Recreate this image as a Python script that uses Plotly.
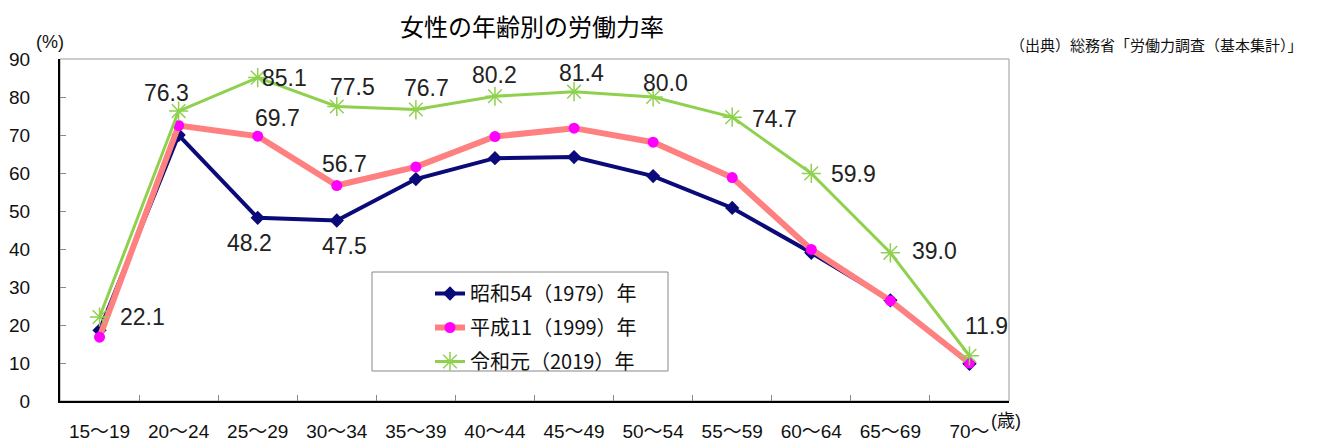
import plotly.graph_objects as go

categories = ["15～19", "20～24", "25～29", "30～34", "35～39", "40～44",
              "45～49", "50～54", "55～59", "60～64", "65～69", "70～"]
s1979 = [18.6, 70.0, 48.2, 47.5, 58.4, 63.9, 64.2, 59.2, 50.8, 39.0, 26.5, 9.8]
s1999 = [16.8, 72.5, 69.7, 56.7, 61.6, 69.6, 71.8, 68.1, 58.8, 39.9, 26.4, 10.0]
s2019 = [22.1, 76.3, 85.1, 77.5, 76.7, 80.2, 81.4, 80.0, 74.7, 59.9, 39.0, 11.9]
names = ["昭和54（1979）年", "平成11（1999）年", "令和元（2019）年"]
y_ticks = [0, 10, 20, 30, 40, 50, 60, 70, 80, 90]

# (series index, category index, xshift, yshift)
label_pos = [
    (2, 0, 43, 0), (2, 1, -12, 18), (2, 2, 27, 0), (2, 3, 16, 20), (2, 4, 11, 22),
    (2, 5, 0, 21), (2, 6, 7, 19), (2, 7, 12, 14), (2, 8, 42, -2), (2, 9, 42, -1),
    (2, 10, 44, 2), (2, 11, 17, 30),
    (1, 2, 20, 18), (1, 3, 8, 22),
    (0, 2, -8, -25), (0, 3, 8, -25),
]

series = [s1979, s1999, s2019]
fig = go.Figure()
fig.add_trace(go.Scatter(x=categories, y=s1979, name=names[0], mode="lines+markers",
                         line=dict(color="#0a0a78", width=4),
                         marker=dict(symbol="diamond", size=11, color="#0a0a78"),
                         legendgroup="a"))
fig.add_trace(go.Scatter(x=categories, y=s1999, name=names[1], mode="lines+markers",
                         line=dict(color="#ff8080", width=6),
                         marker=dict(symbol="circle", size=11, color="#ff00ff"),
                         legendgroup="b"))
fig.add_trace(go.Scatter(x=categories, y=s2019, name=names[2], mode="lines+markers",
                         line=dict(color="#8fd14f", width=3),
                         marker=dict(symbol="asterisk-open", size=16,
                                     line=dict(color="#8fd14f", width=1.5)),
                         legendgroup="c"))

lab_font = dict(family="Liberation Sans Narrow, Liberation Sans, Arial", size=23, color="#222222")
annotations = []
for si, ci, dx, dy in label_pos:
    v = series[si][ci]
    annotations.append(dict(x=categories[ci], y=v, xref="x", yref="y", text=f"{v:.1f}",
                            showarrow=False, xshift=dx, yshift=dy, font=lab_font))

# page has an 8px body margin: the figure is offset by OFF from the window corner
OFF = 8
FW, FH = 1318 - OFF, 446 - OFF
# plot area in window pixels: x 60..1009, y 59..401
PL, PR, PT, PB = 60, 1009, 59, 401
L, R, T, B = PL - OFF, FW - (PR - OFF), PT - OFF, FH - (PB - OFF)
W, H = PR - PL, PB - PT


def px(xp, yp):
    return (xp - PL) / W, (PB - yp) / H


extra = [
    (532, 25, "女性の年齢別の労働力率", "center",
     dict(family="Noto Sans CJK JP", size=24, color="#000")),
    (1305, 44, "（出典）総務省「労働力調査（基本集計）」", "right",
     dict(family="Noto Sans CJK JP", size=15, color="#111")),
    (50, 42, "(%)", "center",
     dict(family="Liberation Sans, Noto Sans CJK JP", size=18, color="#111")),
    (1006, 421, "(歳)", "center",
     dict(family="Liberation Sans, Noto Sans CJK JP", size=18, color="#111")),
]
for xp, yp, txt, xa, fnt in extra:
    ax, ay = px(xp, yp)
    annotations.append(dict(x=ax, y=ay, xref="paper", yref="paper", text=txt,
                            showarrow=False, xanchor=xa, yanchor="middle", font=fnt))

lx0, ly0 = px(372, 371)
lx1, ly1 = px(668, 272)
shapes = [
    dict(type="rect", xref="paper", yref="paper", x0=0, x1=1, y0=0, y1=1,
         line=dict(color="#999999", width=1), layer="below"),
    dict(type="rect", xref="paper", yref="paper", x0=lx0, x1=lx1, y0=ly0, y1=ly1,
         line=dict(color="#888888", width=1), fillcolor="white", layer="below"),
]

lgx, lgy = px(430, 274)
fig.update_layout(
    width=FW, height=FH,
    margin=dict(l=L, r=R, t=T, b=B, autoexpand=False),
    paper_bgcolor="white", plot_bgcolor="white",
    showlegend=True,
    legend=dict(x=lgx, y=lgy, xanchor="left", yanchor="top",
                bgcolor="rgba(0,0,0,0)", borderwidth=0, tracegroupgap=5,
                font=dict(family="Noto Sans CJK JP", size=20, color="#111")),
    annotations=annotations,
    shapes=shapes,
    xaxis=dict(type="category", range=[-0.5, 11.5], showline=True, linecolor="#000",
               linewidth=2, automargin=False,
               ticks="inside", tickson="boundaries", ticklen=6, tickcolor="#888",
               showgrid=False, ticklabelstandoff=12,
               tickfont=dict(family="Liberation Sans, Noto Sans CJK JP", size=19, color="#111")),
    yaxis=dict(range=[0, 90], tickvals=y_ticks, showline=True, linecolor="#000", linewidth=2,
               automargin=False,
               ticks="inside", ticklen=6, tickcolor="#888", showgrid=False, zeroline=False,
               ticklabelstandoff=24,
               tickfont=dict(family="Liberation Sans", size=19, color="#111")),
)

fig.write_html("out.html")
